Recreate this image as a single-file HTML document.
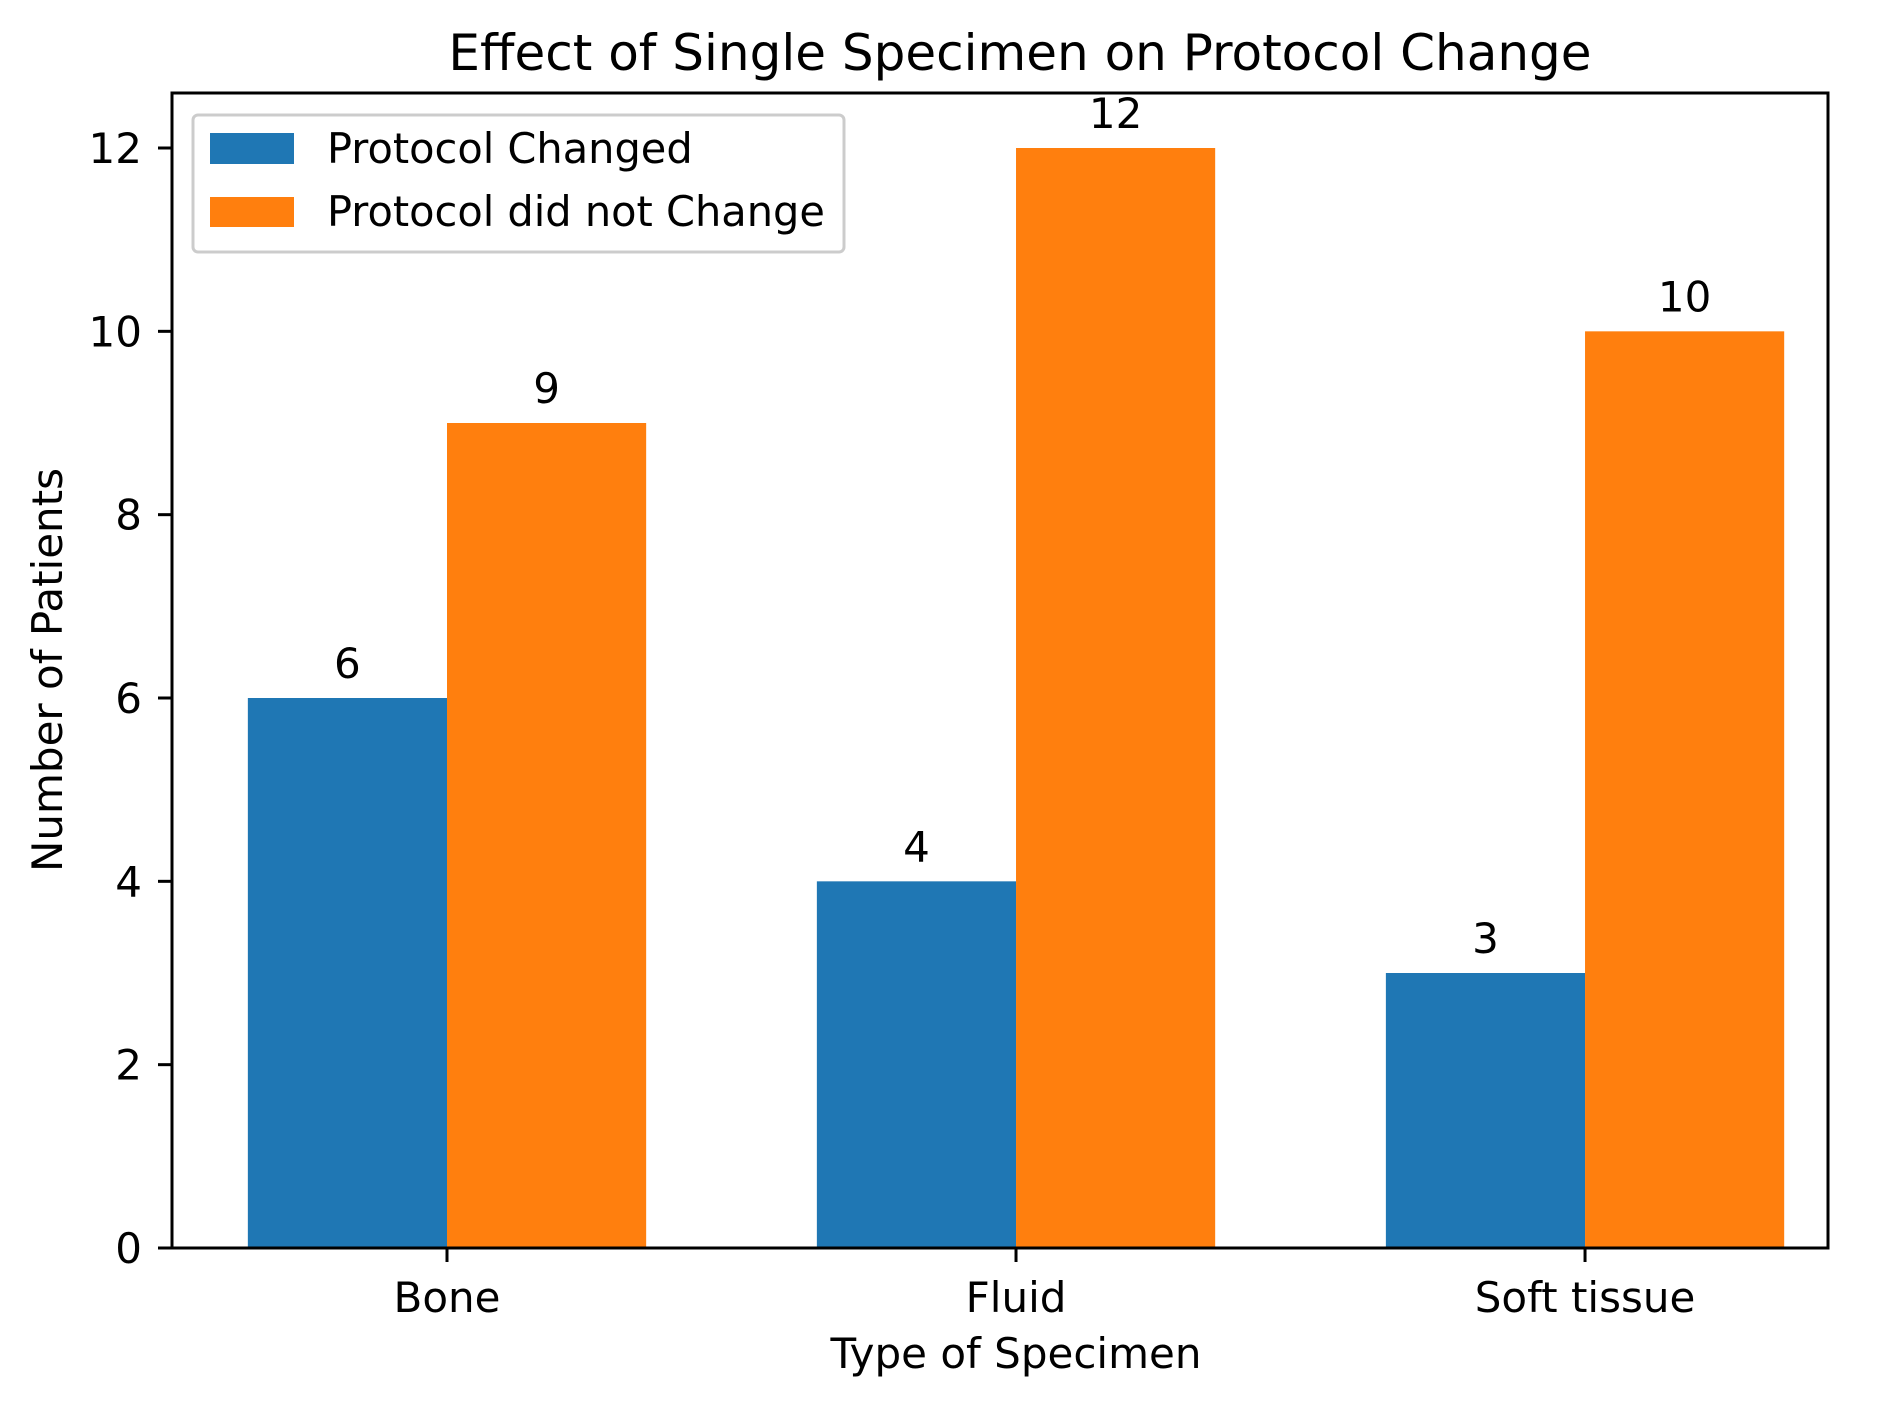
<!DOCTYPE html>
<html><head><meta charset="utf-8"><style>
body{margin:0;background:#fff}
svg{display:block;font-family:"DejaVu Sans","Liberation Sans",sans-serif}
</style></head><body>
<svg id="chart" width="1890" height="1406" viewBox="0 0 1890 1406">
<text x="1020" y="70" font-size="50" text-anchor="middle">Effect of Single Specimen on Protocol Change</text>
<g id="plot"></g>
<text x="1016" y="1368" font-size="42" text-anchor="middle">Type of Specimen</text>
<text transform="translate(62,670) rotate(-90)" font-size="42" text-anchor="middle">Number of Patients</text>
<g>
<rect x="193" y="115" width="651" height="137" rx="5" fill="#fff" fill-opacity="0.8" stroke="#ccc" stroke-width="3"/>
<rect x="210" y="133" width="84" height="31" fill="#1f77b4"/>
<text x="327" y="163" font-size="41.5">Protocol Changed</text>
<rect x="210" y="197" width="84" height="30" fill="#ff7f0e"/>
<text x="327" y="226" font-size="41.5">Protocol did not Change</text>
</g>
</svg>
<script>
const categories = ["Bone", "Fluid", "Soft tissue"];
const changedValues = [6, 4, 3];
const notChangedValues = [9, 12, 10];
const yTicks = [0, 2, 4, 6, 8, 10, 12];

const L = 172, R = 1828, T = 93, B = 1248;
const xMin = -0.4833, xMax = 2.427, yMin = 0, yMax = 12.6;
const barW = 0.35;
function xs(v){ return L + (v - xMin) / (xMax - xMin) * (R - L); }
function ys(v){ return B - (v - yMin) / (yMax - yMin) * (B - T); }

const NS = "http://www.w3.org/2000/svg";
const g = document.getElementById("plot");
function mk(tag, attrs){ const e = document.createElementNS(NS, tag); for (const k in attrs) e.setAttribute(k, attrs[k]); g.appendChild(e); return e; }

function drawBar(i, v, offset, color, name){
  const x0 = xs(i + offset), x1 = xs(i + offset + barW);
  const r = mk("rect", {x: x0, y: ys(v), width: x1 - x0, height: ys(0) - ys(v), fill: color});
  
  
  const t = mk("text", {x: (x0 + x1) / 2, y: ys(v) - 20, "font-size": 42, "text-anchor": "middle"});
  t.textContent = String(v);
  
  
}
categories.forEach((c, i) => {
  drawBar(i, changedValues[i], -barW, "#1f77b4", "bar-changed-" + i);
  drawBar(i, notChangedValues[i], 0, "#ff7f0e", "bar-not-changed-" + i);
  const tk = mk("line", {x1: xs(i), x2: xs(i), y1: B, y2: B + 14, stroke: "#000", "stroke-width": 3});
  
  
  const tl = mk("text", {x: xs(i), y: B + 64, "font-size": 42, "text-anchor": "middle"});
  tl.textContent = c;
  
  
});
yTicks.forEach(v => {
  const tk = mk("line", {x1: L - 14, x2: L, y1: ys(v), y2: ys(v), stroke: "#000", "stroke-width": 3});
  
  
  const tl = mk("text", {x: L - 30, y: ys(v) + 15, "font-size": 42, "text-anchor": "end"});
  tl.textContent = String(v);
  
  
});
const frame = mk("rect", {x: L, y: T, width: R - L, height: B - T, fill: "none", stroke: "#000", "stroke-width": 3});


</script>
</body></html>
